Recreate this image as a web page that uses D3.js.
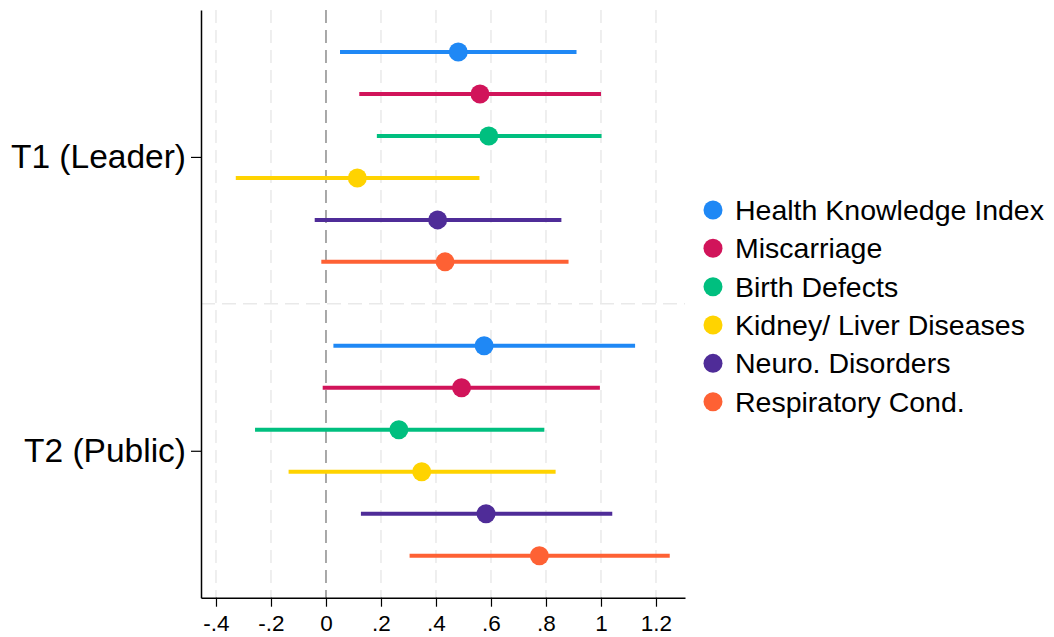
<!DOCTYPE html>
<html><head><meta charset="utf-8">
<script src="https://cdn.jsdelivr.net/npm/d3@7"></script>
<style>
html,body{margin:0;padding:0;background:#fff;}
svg text{font-family:"Liberation Sans",Arial,Helvetica,sans-serif;fill:#000;}
</style></head>
<body><svg id="chart" width="1054" height="637"></svg>
<script>
const groups = ["T1 (Leader)", "T2 (Public)"];
const seriesNames = ["Health Knowledge Index","Miscarriage","Birth Defects","Kidney/ Liver Diseases","Neuro. Disorders","Respiratory Cond."];
const seriesColors = ["#1f88f5","#d1145a","#00bf7f","#ffd300","#4f2c98","#fe6134"];
const xTicks = [-0.4,-0.2,0,0.2,0.4,0.6,0.8,1,1.2];
const xTickLabels = ["-.4","-.2","0",".2",".4",".6",".8","1","1.2"];
// estimates and 95% CI per group (rows follow seriesNames order)
const estT1 = [0.481,0.560,0.592,0.114,0.406,0.433];
const loT1  = [0.051,0.121,0.185,-0.328,-0.041,-0.017];
const hiT1  = [0.911,1.000,1.002,0.558,0.856,0.882];
const estT2 = [0.575,0.493,0.265,0.348,0.582,0.776];
const loT2  = [0.027,-0.012,-0.258,-0.136,0.127,0.304];
const hiT2  = [1.124,0.996,0.794,0.835,1.041,1.250];

const rows = [];
[[estT1,loT1,hiT1],[estT2,loT2,hiT2]].forEach((g,gi)=>{
  seriesNames.forEach((s,si)=>{
    rows.push({group:gi, series:si, idx: gi*7+si, est:g[0][si], lo:g[1][si], hi:g[2][si]});
  });
});

const svg = d3.select("#chart");
const L=201, R=685, T=10, B=597.7;
const x = d3.scaleLinear().domain([-0.4545,1.3055]).range([L,R]);
const y = d3.scaleLinear().domain([-1,13]).range([T,B]);

// vertical grid
svg.append("g").selectAll("line").data(xTicks).join("line")
  .attr("x1",d=>x(d)).attr("x2",d=>x(d)).attr("y1",T).attr("y2",B)
  .attr("stroke",d=>d===0?"#a0a0a0":"#e9e9e9")
  .attr("stroke-width",d=>d===0?1.8:1.5)
  .attr("stroke-dasharray","13,7");
// horizontal separator
svg.append("line").attr("x1",L).attr("x2",R).attr("y1",y(6)).attr("y2",y(6))
  .attr("stroke","#e9e9e9").attr("stroke-width",1.5).attr("stroke-dasharray","14,7");

// axes
const xAxis = d3.axisBottom(x).tickValues(xTicks).tickFormat((d,i)=>xTickLabels[i]).tickSize(9).tickPadding(8).tickSizeOuter(0);
const gx = svg.append("g").attr("transform",`translate(0,${B})`).call(xAxis);
gx.select(".domain").attr("stroke","#000").attr("stroke-width",1.5);
gx.selectAll(".tick line").attr("stroke","#000").attr("stroke-width",1.2);
gx.selectAll(".tick text").attr("font-size",22.5).attr("font-family","Liberation Sans, Arial, sans-serif").attr("fill","#000");

const yAxis = d3.axisLeft(y).tickValues([2.5,9.5]).tickFormat((d,i)=>groups[i]).tickSize(10).tickPadding(5).tickSizeOuter(0);
const gy = svg.append("g").attr("transform",`translate(${L},0)`).call(yAxis);
gy.select(".domain").attr("stroke","#000").attr("stroke-width",1.5);
gy.selectAll(".tick line").attr("stroke","#000").attr("stroke-width",1.2);
gy.selectAll(".tick text").attr("font-size",33.5).attr("font-family","Liberation Sans, Arial, sans-serif").attr("fill","#000");

// CI lines and points
const g = svg.append("g");
g.selectAll("line.ci").data(rows).join("line").attr("class","ci")
  .attr("x1",d=>x(d.lo)).attr("x2",d=>x(d.hi)).attr("y1",d=>y(d.idx)).attr("y2",d=>y(d.idx))
  .attr("stroke",d=>seriesColors[d.series]).attr("stroke-width",4);
g.selectAll("circle").data(rows).join("circle")
  .attr("cx",d=>x(d.est)).attr("cy",d=>y(d.idx)).attr("r",9.5)
  .attr("fill",d=>seriesColors[d.series]);

// legend
const lg = svg.append("g");
const ly = d3.scaleLinear().domain([0,5]).range([210,401.7]);
seriesNames.forEach((s,i)=>{
  lg.append("circle").attr("cx",713).attr("cy",ly(i)).attr("r",9.5).attr("fill",seriesColors[i]);
  lg.append("text").attr("x",735).attr("y",ly(i)).attr("dy","0.35em").attr("font-size",28.5).text(s);
});
</script></body></html>
